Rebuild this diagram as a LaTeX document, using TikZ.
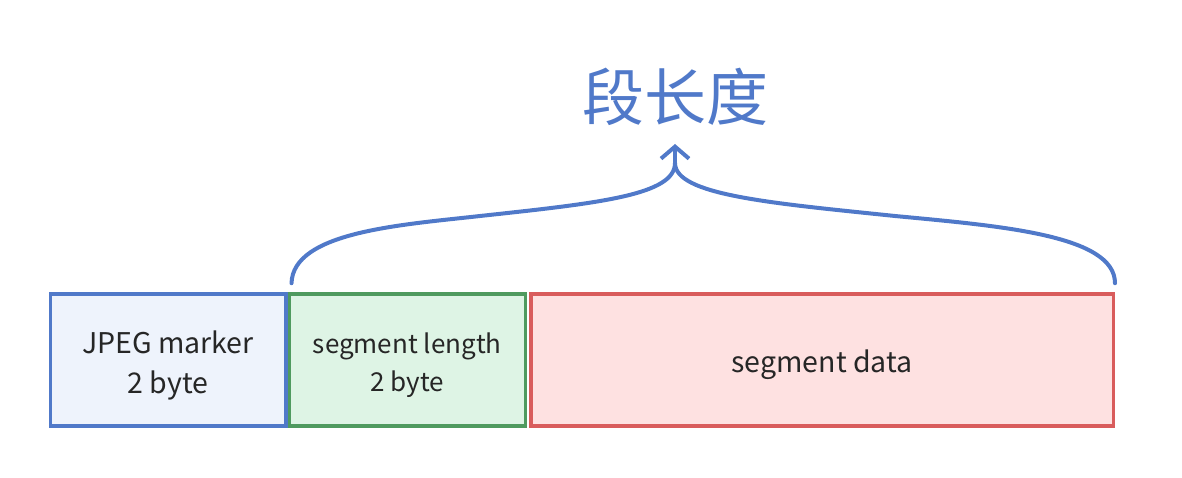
\documentclass[tikz,border=0pt]{standalone}
\usepackage{fontspec}
\setmainfont{Noto Sans CJK SC}
\usetikzlibrary{arrows.meta,positioning,calc}
\definecolor{lineblue}{HTML}{5079C9}
\definecolor{fillblue}{HTML}{EEF3FC}
\definecolor{linegreen}{HTML}{4F9A5F}
\definecolor{fillgreen}{HTML}{DEF4E5}
\definecolor{linered}{HTML}{D95C5C}
\definecolor{fillred}{HTML}{FEE1E1}
\newcommand{\lowered}[1]{\raisebox{-5pt}[\height][\depth]{\color{black!85}#1}}
\tikzset{
  field/.style={draw, line width=3.5pt, minimum height=132pt, inner sep=0pt,
    align=center, font=\fontsize{28.5}{40}\selectfont},
  brace/.style={lineblue, line width=4pt, line cap=round}
}

\begin{document}
\begin{tikzpicture}[x=1pt,y=-1pt]
                        \useasboundingbox (0,0) rectangle (1182,478);
                        \node[field, lineblue, fill=fillblue, minimum width=235.5pt] (marker) at (168,360)
                            {\lowered{\begin{tabular}{@{}c@{}}JPEG marker\\2 byte\end{tabular}}};
                        \node[field, linegreen, fill=fillgreen, minimum width=236pt,
                            font=\fontsize{26}{38}\selectfont, right=0pt of marker] (len)
                            {\lowered{\begin{tabular}{@{}c@{}}segment length\\2 byte\end{tabular}}};
                        \node[field, linered, fill=fillred, minimum width=582.5pt, right=2pt of len] (data)
                            {\lowered{segment data}};
                        \coordinate (braceL) at ($(len.north west)+(4,-9)$);
                        \coordinate (braceR) at ($(data.north east)+(0,-9)$);
                        \coordinate (join) at (675,163);
                        \node[text=lineblue, font=\fontsize{62}{62}\selectfont] (title) at (675,97) {段长度};
                        \draw[brace] (braceL) .. controls (293,232) and (400,225) .. (480,216)
                            .. controls (600,203) and (675,195) .. (join);
                        \draw[brace] (braceR) .. controls (1115,235) and (1000,226) .. (895,216)
                            .. controls (770,203) and (675,195) .. (join);
                        \draw[brace, -{Straight Barb[length=12pt,width=28pt,line width=4pt]}] (join) -- (675,144);
                    \end{tikzpicture}
\end{document}
